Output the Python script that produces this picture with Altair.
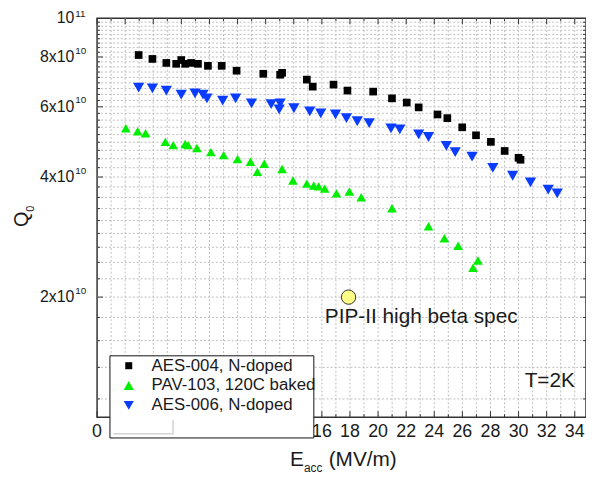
import altair as alt
import pandas as pd

# ---------------- data (Q0 in units of 1e10, Eacc in MV/m) ----------------
aes004_E = [2.96, 3.94, 4.93, 5.63, 5.99, 6.27, 6.69, 7.18, 7.89, 8.87, 9.93, 11.83,
            13.03, 13.17, 14.93, 15.35, 16.83, 17.82, 19.65, 20.99, 22.04, 22.89,
            24.23, 24.93, 25.99, 26.97, 28.03, 29.01, 30.0, 30.14]
aes004_Q = [8.09, 7.91, 7.73, 7.69, 7.86, 7.69, 7.73, 7.69, 7.60, 7.60, 7.39, 7.26,
            7.22, 7.30, 7.02, 6.74, 6.82, 6.59, 6.55, 6.30, 6.15, 5.98,
            5.74, 5.62, 5.33, 5.09, 4.90, 4.65, 4.47, 4.42]

pav103_E = [2.05, 2.89, 3.45, 4.86, 5.42, 6.27, 6.48, 7.11, 8.1, 9.01, 10.0, 10.92,
            11.41, 11.9, 13.17, 13.94, 14.93, 15.42, 15.77, 16.2, 17.04, 17.96, 18.8,
            20.99, 23.59, 24.72, 25.7, 26.76, 27.11]
pav103_Q = [5.30, 5.21, 5.15, 4.90, 4.81, 4.84, 4.81, 4.73, 4.62, 4.54, 4.44, 4.37,
            4.12, 4.32, 4.19, 3.92, 3.85, 3.81, 3.79, 3.74, 3.64, 3.68, 3.56,
            3.34, 3.01, 2.81, 2.69, 2.37, 2.47]

aes006_E = [2.96, 3.94, 4.93, 5.99, 6.97, 7.54, 7.82, 8.94, 9.86, 10.99, 12.39, 13.03,
            12.96, 14.01, 15.14, 15.92, 16.97, 17.75, 18.52, 19.37, 20.92, 21.55,
            22.89, 23.59, 24.86, 25.49, 26.69, 28.17, 29.58, 30.85, 32.11, 32.75]
aes006_Q = [6.70, 6.67, 6.59, 6.44, 6.48, 6.44, 6.30, 6.22, 6.30, 6.12, 6.09, 6.12,
            5.91, 5.95, 5.84, 5.78, 5.74, 5.62, 5.52, 5.46, 5.30, 5.27,
            5.12, 5.04, 4.79, 4.62, 4.50, 4.22, 4.03, 3.88, 3.72, 3.64]

series_names = ["AES-004, N-doped", "PAV-103, 120C baked", "AES-006, N-doped"]
series_colors = ["#000000", "#00ee00", "#0a3cff"]
series_shapes = ["square", "triangle-up", "triangle-down"]
series_sizes = [60, 130, 130]
legend_sizes = [50, 105, 105]

spec_E = [17.9]
spec_Q = [2.0]
spec_label = "PIP-II high beta spec"
temp_label = "T=2K"

x_tick_values = list(range(0, 35, 2))
x_tick_labels = [str(v) for v in x_tick_values]
y_tick_values = [2, 4, 6, 8]
y_tick_base = ["2x10", "4x10", "6x10", "8x10"]
y_tick_exp = ["10", "10", "10", "10"]
y_top_value = [10]
y_top_base = ["10"]
y_top_exp = ["11"]

# ---------------- layout constants ----------------
W, H = 494, 403
FONT = "Liberation Sans"
GRID = "#bdbdbd"
TICK = "#333333"
TXT = "#1a1a1a"

rows = []
for name, Es, Qs in zip(series_names, [aes004_E, pav103_E, aes006_E],
                        [aes004_Q, pav103_Q, aes006_Q]):
    for e, q in zip(Es, Qs):
        rows.append({"series": name, "E": e, "Q": q})
df = pd.DataFrame(rows)

xs = alt.Scale(domain=[0, 34.8], nice=False, zero=False)
ys = alt.Scale(type="log", domain=[1, 10], nice=False)
X = alt.X("E:Q", scale=xs, axis=None)
Y = alt.Y("Q:Q", scale=ys, axis=None)

x_minor = list(range(1, 35))
y_minor = [2 - 2 * k / 9 for k in range(1, 5)]
for b in [2, 4, 6, 8]:
    y_minor += [b + 2 * k / 9 for k in range(1, 9)]
y_major = [2, 4, 6, 8]

one = pd.DataFrame({"a": [0]})
layers = []

# grid
layers.append(alt.Chart(pd.DataFrame({"E": x_minor})).mark_rule(
    color=GRID, strokeDash=[2, 2], strokeWidth=1).encode(x=X, y=alt.value(0), y2=alt.value(H)))
layers.append(alt.Chart(pd.DataFrame({"Q": y_minor + y_major})).mark_rule(
    color=GRID, strokeDash=[2, 2], strokeWidth=1).encode(y=Y, x=alt.value(0), x2=alt.value(W)))

# inward ticks
xmaj = pd.DataFrame({"E": x_tick_values})
xmin = pd.DataFrame({"E": [v for v in x_minor if v % 2 == 1]})
ymaj = pd.DataFrame({"Q": y_major})
ymin = pd.DataFrame({"Q": y_minor})
for d, ln in [(xmaj, 6), (xmin, 3)]:
    layers.append(alt.Chart(d).mark_rule(color=TICK).encode(x=X, y=alt.value(H), y2=alt.value(H - ln)))
    layers.append(alt.Chart(d).mark_rule(color=TICK).encode(x=X, y=alt.value(0), y2=alt.value(ln)))
for d, ln in [(ymaj, 6), (ymin, 3)]:
    layers.append(alt.Chart(d).mark_rule(color=TICK).encode(y=Y, x=alt.value(0), x2=alt.value(ln)))
    layers.append(alt.Chart(d).mark_rule(color=TICK).encode(y=Y, x=alt.value(W), x2=alt.value(W - ln)))

# x tick labels (drawn before the legend box, which covers some of them)
xlab = pd.DataFrame({"E": x_tick_values, "lab": x_tick_labels})
layers.append(alt.Chart(xlab).mark_text(align="center", baseline="middle", fontSize=18, font=FONT,
                                        color=TXT).encode(x=X, y=alt.value(H + 15), text="lab:N"))

# data points
layers.append(alt.Chart(df).mark_point(filled=True, opacity=1, strokeWidth=0).encode(
    x=X, y=Y,
    color=alt.Color("series:N", scale=alt.Scale(domain=series_names, range=series_colors), legend=None),
    shape=alt.Shape("series:N", scale=alt.Scale(domain=series_names, range=series_shapes), legend=None),
    size=alt.Size("series:N", scale=alt.Scale(domain=series_names, range=series_sizes), legend=None),
))

# PIP-II spec point and label
spec_df = pd.DataFrame({"E": spec_E, "Q": spec_Q})
layers.append(alt.Chart(spec_df).mark_circle(fill="#ffff88", stroke="#333333", strokeWidth=1,
                                             opacity=1, size=210).encode(x=X, y=Y))
layers.append(alt.Chart(spec_df).mark_text(align="left", baseline="middle", fontSize=21, font=FONT,
                                           color=TXT, dx=-24, dy=20).encode(
    x=X, y=Y, text=alt.value(spec_label)))

# T=2K
layers.append(alt.Chart(one).mark_text(align="left", baseline="middle", fontSize=21, font=FONT,
                                       color=TXT).encode(
    x=alt.value(432), y=alt.value(367), text=alt.value(temp_label)))

# legend box
layers.append(alt.Chart(one).mark_rect(fill="white", stroke="#111111", strokeWidth=1).encode(
    x=alt.value(13), x2=alt.value(219), y=alt.value(341), y2=alt.value(424)))
layers.append(alt.Chart(one).mark_rect(fill="#d4d4d4").encode(
    x=alt.value(16.5), x2=alt.value(77.5), y=alt.value(405.5), y2=alt.value(420.5)))
layers.append(alt.Chart(one).mark_rect(fill="white").encode(
    x=alt.value(15), x2=alt.value(76), y=alt.value(404), y2=alt.value(419)))
for i, (name, col, shp, sz) in enumerate(zip(series_names, series_colors, series_shapes, legend_sizes)):
    yy = 351 + 20 * i
    layers.append(alt.Chart(one).mark_point(filled=True, opacity=1, strokeWidth=0, shape=shp,
                                            color=col, size=sz).encode(
        x=alt.value(32), y=alt.value(yy)))
    layers.append(alt.Chart(one).mark_text(align="left", baseline="middle", fontSize=17, font=FONT,
                                           color=TXT).encode(
        x=alt.value(55), y=alt.value(yy), text=alt.value(name)))

# y tick labels with superscripts
ylab = pd.DataFrame({"Q": y_tick_values, "base": y_tick_base, "exp": y_tick_exp})
ytop = pd.DataFrame({"Q": y_top_value, "base": y_top_base, "exp": y_top_exp})
for d, sdy in [(ylab, -6.5), (ytop, -4.5)]:
    layers.append(alt.Chart(d).mark_text(align="right", baseline="middle", fontSize=16, font=FONT,
                                         color=TXT).encode(x=alt.value(-23), y=Y, text="base:N"))
    layers.append(alt.Chart(d).mark_text(align="left", baseline="middle", fontSize=10, font=FONT,
                                         color=TXT, dy=sdy).encode(x=alt.value(-22), y=Y, text="exp:N"))

# axis titles
layers.append(alt.Chart(one).mark_text(angle=270, align="center", baseline="middle", fontSize=20,
                                       font=FONT, color=TXT).encode(
    x=alt.value(-76), y=alt.value(203), text=alt.value("Q")))
layers.append(alt.Chart(one).mark_text(angle=270, align="center", baseline="middle", fontSize=11,
                                       font=FONT, color=TXT).encode(
    x=alt.value(-66.5), y=alt.value(192.5), text=alt.value("0")))
layers.append(alt.Chart(one).mark_text(align="left", baseline="alphabetic", fontSize=21, font=FONT,
                                       color=TXT).encode(
    x=alt.value(195), y=alt.value(452), text=alt.value("E")))
layers.append(alt.Chart(one).mark_text(align="left", baseline="alphabetic", fontSize=12, font=FONT,
                                       color=TXT).encode(
    x=alt.value(209), y=alt.value(458), text=alt.value("acc")))
layers.append(alt.Chart(one).mark_text(align="left", baseline="alphabetic", fontSize=21, font=FONT,
                                       color=TXT).encode(
    x=alt.value(234), y=alt.value(452), text=alt.value("(MV/m)")))

chart = alt.layer(*layers).properties(
    width=W, height=H,
    padding={"left": 90, "top": 8, "right": 0, "bottom": 56},
    autosize=alt.AutoSizeParams(type="none"),
).configure_view(stroke="#333333", strokeWidth=1.5)

chart.save("out.html", embed_options={"renderer": "svg", "actions": False})
